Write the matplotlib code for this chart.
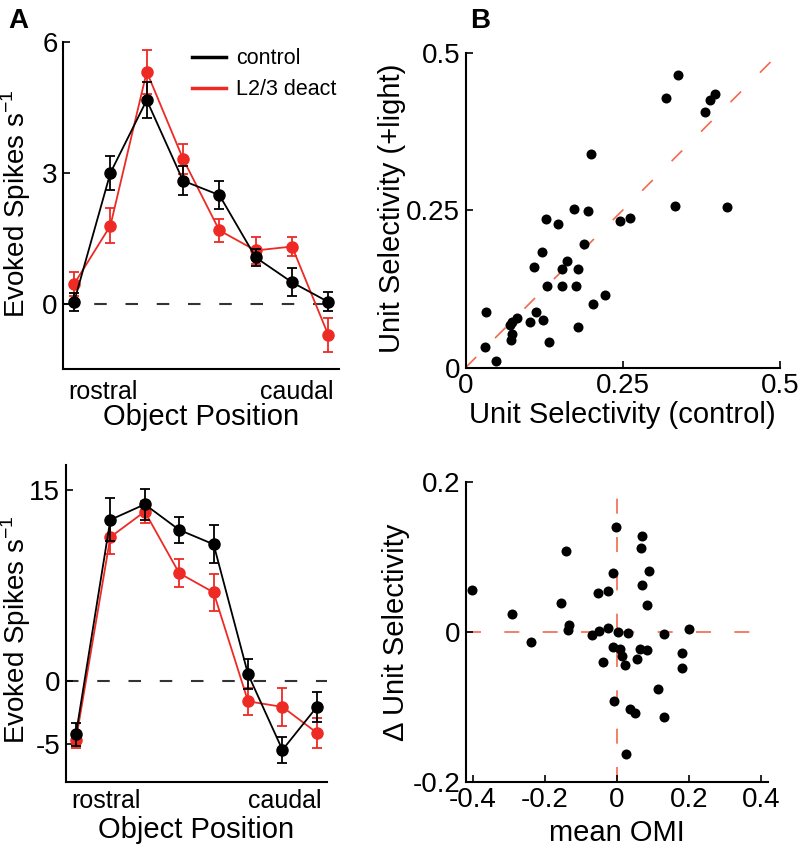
import numpy as np
import matplotlib.pyplot as plt
from matplotlib.lines import Line2D

plt.rcParams['font.family'] = ['Liberation Sans', 'DejaVu Sans']
plt.rcParams['axes.unicode_minus'] = False

# Panel A (top): evoked spikes, 8 object positions
pos = np.arange(1, 9)
ctrl_top = [0.04, 3.0, 4.67, 2.82, 2.49, 1.06, 0.49, 0.04]
ctrl_top_err = [0.2, 0.39, 0.41, 0.33, 0.32, 0.2, 0.32, 0.22]
deact_top = [0.45, 1.79, 5.32, 3.32, 1.68, 1.22, 1.31, -0.72]
deact_top_err = [0.27, 0.4, 0.5, 0.35, 0.27, 0.3, 0.21, 0.4]

# Panel A (bottom)
ctrl_bot = [-4.23, 12.68, 13.9, 11.89, 10.75, 0.52, -5.45, -2.06]
ctrl_bot_err = [0.9, 1.7, 1.2, 1.05, 1.5, 1.2, 1.0, 1.2]
deact_bot = [-4.67, 11.32, 13.33, 8.48, 6.96, -1.62, -2.06, -4.1]
deact_bot_err = [0.6, 1.37, 0.87, 1.1, 1.46, 1.07, 1.5, 1.17]

# Panel B (top): unit selectivity control vs +light
sel_ctrl = [0.337, 0.318, 0.397, 0.389, 0.381, 0.200, 0.333, 0.416, 0.172, 0.194,
            0.128, 0.147, 0.245, 0.261, 0.189, 0.121, 0.162, 0.109, 0.154, 0.178,
            0.129, 0.153, 0.175, 0.222, 0.203, 0.032, 0.112, 0.082, 0.073, 0.070,
            0.103, 0.123, 0.178, 0.074, 0.072, 0.133, 0.031, 0.049]
sel_light = [0.465, 0.428, 0.434, 0.424, 0.405, 0.339, 0.257, 0.255, 0.252, 0.248,
             0.236, 0.228, 0.233, 0.237, 0.196, 0.184, 0.169, 0.160, 0.156, 0.156,
             0.129, 0.130, 0.130, 0.115, 0.101, 0.088, 0.088, 0.078, 0.073, 0.068,
             0.072, 0.076, 0.064, 0.053, 0.044, 0.041, 0.033, 0.011]

# Panel B (bottom): mean OMI vs change in selectivity
omi = [-0.401, -0.292, -0.238, -0.140, -0.156, -0.132, -0.135, -0.003, 0.069, 0.066,
       0.090, -0.010, 0.070, -0.052, -0.025, 0.084, -0.050, -0.025, -0.068, 0.002,
       0.031, 0.131, 0.201, -0.010, 0.008, 0.064, 0.085, 0.182, 0.015, -0.038,
       0.055, 0.024, 0.181, 0.115, -0.007, 0.036, 0.051, 0.131, 0.025]
dsel = [0.056, 0.024, -0.014, 0.107, 0.038, 0.009, 0.002, 0.139, 0.128, 0.111,
        0.081, 0.078, 0.062, 0.051, 0.054, 0.035, 0.001, 0.005, -0.005, 0.000,
        -0.002, -0.003, 0.003, -0.021, -0.023, -0.023, -0.025, -0.028, -0.033, -0.040,
        -0.036, -0.045, -0.048, -0.076, -0.092, -0.103, -0.108, -0.114, -0.163]

RED = '#ee2a24'
SALMON = '#f26a4e'
TICK_FS = 20
LAB_FS = 21

fig = plt.figure(figsize=(8, 8.47), dpi=100)


def style(ax):
    for s in ['top', 'right']:
        ax.spines[s].set_visible(False)
    for s in ['left', 'bottom']:
        ax.spines[s].set_linewidth(1.5)
    ax.tick_params(direction='in', length=5, width=1.2, labelsize=TICK_FS, pad=4)


def tuning(ax, c, ce, d, de, ylim, yticks, text_y, label_y):
    ax.axhline(0, color='#333333', lw=1.5, dashes=(6, 9), zorder=1)
    ax.errorbar(pos, c, yerr=ce, color='black', marker='o', ms=8, lw=1.3,
                capsize=3.5, elinewidth=1.3, capthick=1.3, zorder=3)
    ax.errorbar(pos, d, yerr=de, color=RED, marker='o', ms=8, lw=1.3,
                capsize=3.5, elinewidth=1.3, capthick=1.3, zorder=2)
    ax.set_xlim(0.7, 8.3)
    ax.set_ylim(*ylim)
    ax.set_yticks(yticks)
    ax.set_xticks([])
    style(ax)
    ax.text(0.02, text_y, 'rostral', transform=ax.transAxes, fontsize=18,
            ha='left', va='top')
    ax.text(0.98, text_y, 'caudal', transform=ax.transAxes, fontsize=18,
            ha='right', va='top')
    ax.set_xlabel('Object Position', fontsize=LAB_FS, labelpad=24.5)
    ax.set_ylabel('Evoked Spikes s$^{\\mathregular{-1}}$', fontsize=20)
    ax.yaxis.set_label_coords(33 / 800, label_y, transform=fig.transFigure)


ax1 = fig.add_axes([0.079, 0.5643, 0.345, 0.386])
tuning(ax1, ctrl_top, ctrl_top_err, deact_top, deact_top_err, (-1.5, 6), [0, 3, 6],
       -0.035, 1 - 204 / 847)
handles = [Line2D([], [], color='black', lw=2.5), Line2D([], [], color=RED, lw=2.5)]
ax1.legend(handles, ['control', 'L2/3 deact'], loc='upper right',
           bbox_to_anchor=(1.06, 1.04), frameon=False, fontsize=15.5,
           handlelength=1.6, handletextpad=0.45, labelspacing=0.45)

ax2 = fig.add_axes([0.082, 0.0764, 0.327, 0.3746])
tuning(ax2, ctrl_bot, ctrl_bot_err, deact_bot, deact_bot_err, (-8, 17), [-5, 0, 15],
       -0.02, 1 - 630 / 847)

ax3 = fig.add_axes([0.582, 0.566, 0.393, 0.372])
ax3.plot([0, 0.5], [0, 0.5], color=SALMON, lw=1.2, dashes=(9, 16), zorder=1)
ax3.scatter(sel_ctrl, sel_light, s=52, color='black', zorder=3, linewidths=0)
ax3.set_xlim(0, 0.5)
ax3.set_ylim(0, 0.5)
ax3.set_xticks([0, 0.25, 0.5])
ax3.set_xticklabels(['0', '0.25', '0.5'])
ax3.set_yticks([0, 0.25, 0.5])
ax3.set_yticklabels(['0', '0.25', '0.5'])
style(ax3)
ax3.set_xlabel('Unit Selectivity (control)', fontsize=LAB_FS, labelpad=1)
ax3.set_ylabel('Unit Selectivity (+light)', fontsize=LAB_FS)
ax3.yaxis.set_label_coords(406 / 800, 1 - 208 / 847, transform=fig.transFigure)

ax4 = fig.add_axes([0.582, 0.0771, 0.378, 0.3543])
ax4.axhline(0, color=SALMON, lw=1.2, dashes=(9, 14), zorder=1)
ax4.axvline(0, color=SALMON, lw=1.2, dashes=(9, 14), zorder=1)
ax4.scatter(omi, dsel, s=52, color='black', zorder=3, linewidths=0)
ax4.set_xlim(-0.42, 0.42)
ax4.set_ylim(-0.2, 0.2)
ax4.set_xticks([-0.4, -0.2, 0, 0.2, 0.4])
ax4.set_xticklabels(['-0.4', '-0.2', '0', '0.2', '0.4'])
ax4.set_yticks([-0.2, 0, 0.2])
ax4.set_yticklabels(['-0.2', '0', '0.2'])
style(ax4)
ax4.set_xlabel('mean OMI', fontsize=LAB_FS, labelpad=4)
ax4.set_ylabel('\u0394 Unit Selectivity', fontsize=LAB_FS)
ax4.yaxis.set_label_coords(410 / 800, 1 - 632 / 847, transform=fig.transFigure)

fig.text(0.01, 0.99, 'A', fontsize=20, fontweight='bold', ha='left', va='top')
fig.text(0.588, 0.99, 'B', fontsize=20, fontweight='bold', ha='left', va='top')

fig.savefig('out.png', dpi=100)
